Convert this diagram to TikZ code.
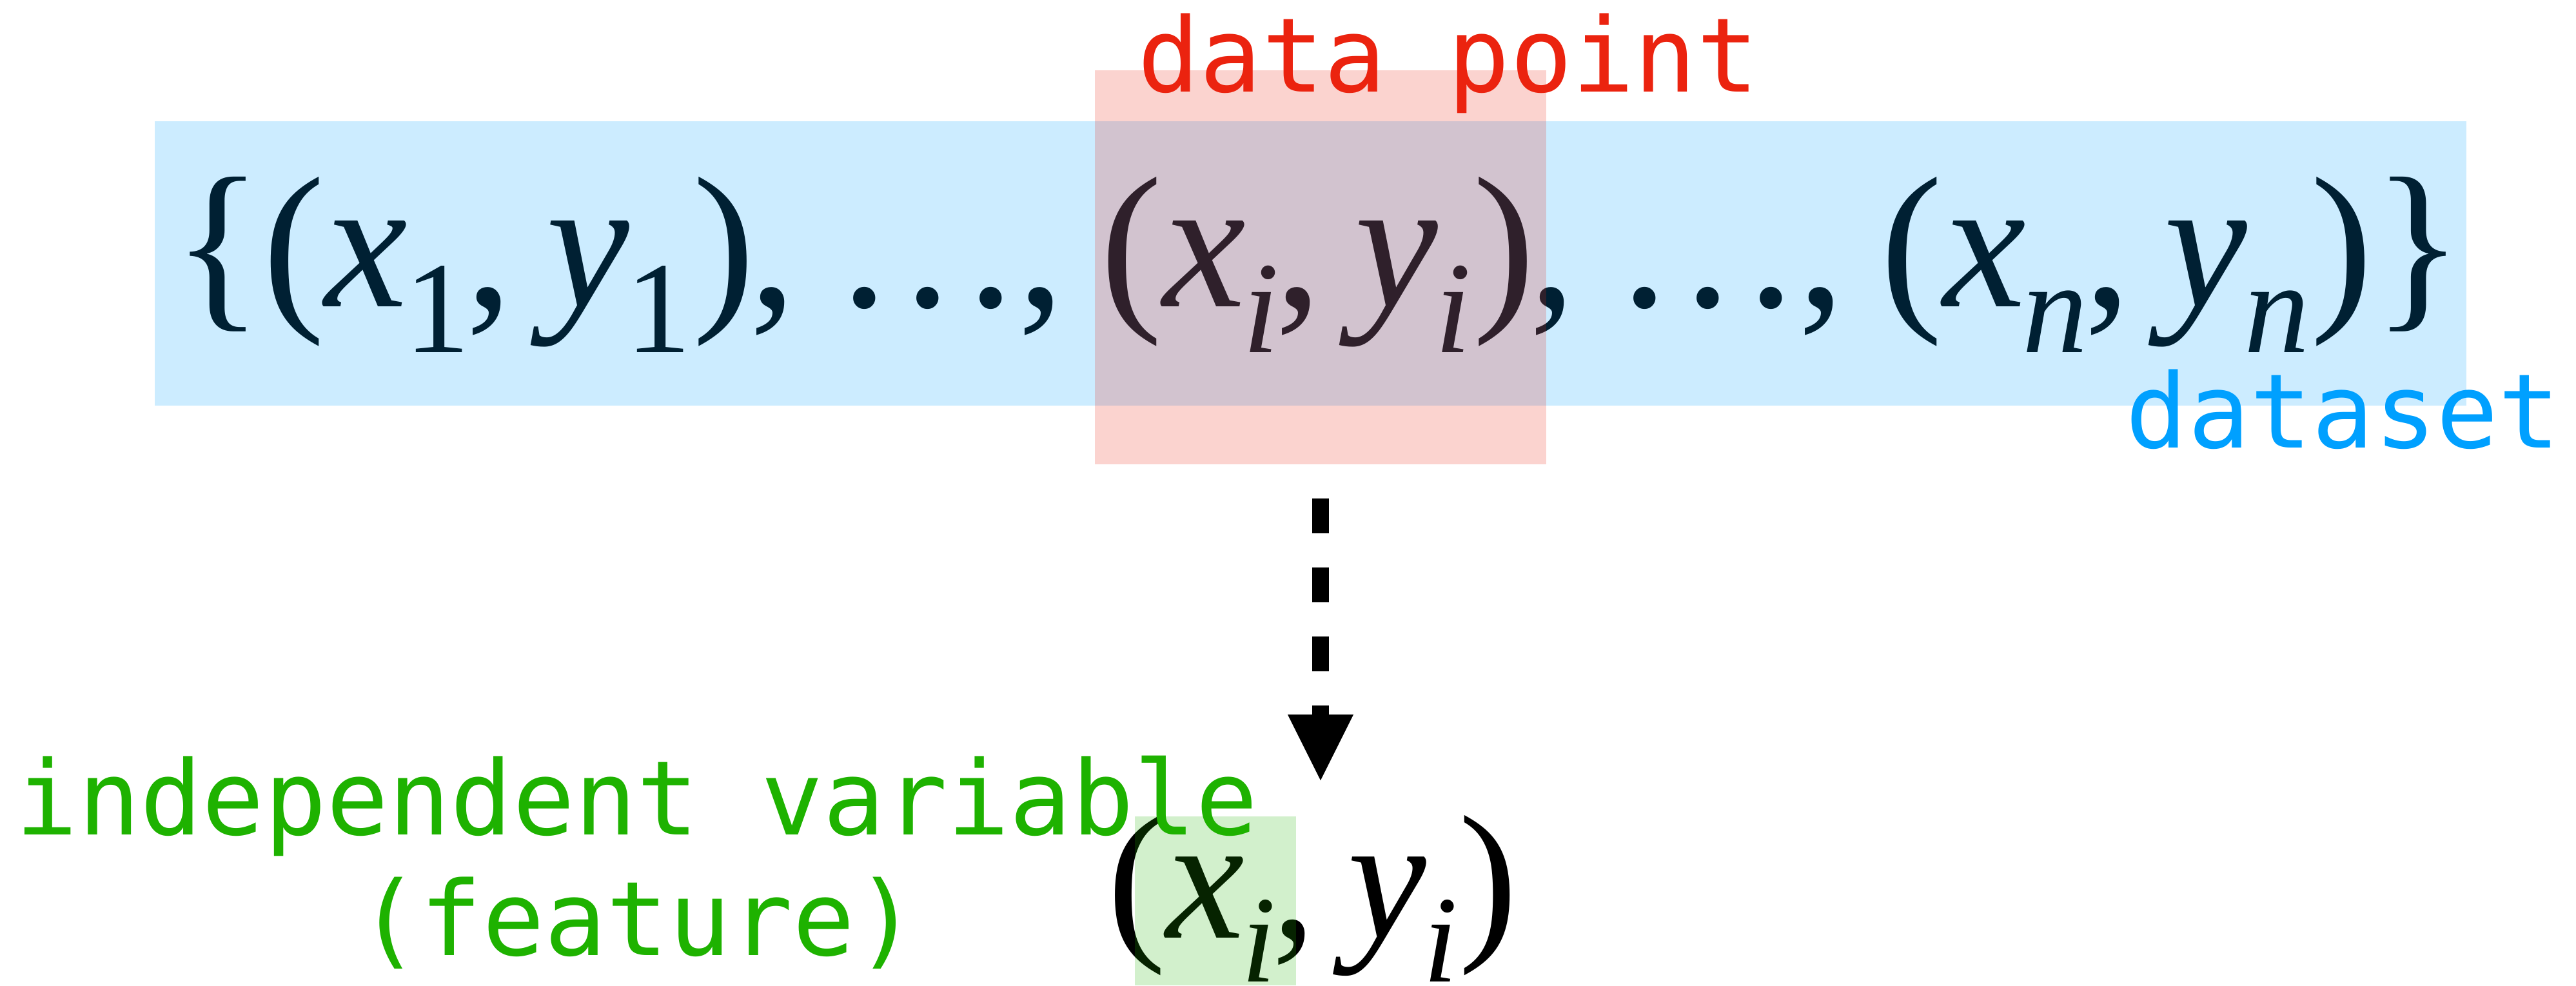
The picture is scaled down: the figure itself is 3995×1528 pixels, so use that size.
\documentclass[tikz,border=0pt]{standalone}
\usepackage{fontspec}
\usetikzlibrary{arrows.meta}
\newfontfamily\formfont{Liberation Serif}
\newfontfamily\labelfont{DejaVu Sans Mono}

\definecolor{dsblue}{RGB}{0,160,255}
\definecolor{dpred}{RGB}{235,35,15}
\definecolor{ftgreen}{RGB}{30,178,0}

% subscript: smaller upright/italic glyph, lowered below the baseline
\def\subsz{20.3pt}
\newcommand\lowidx[1]{\kern-0.017em\raisebox{-0.248em}{\fontsize{\subsz}{\subsz}\selectfont #1}}
% one (x_k, y_k) pair
\newcommand\xypair[1]{(\textit{x}\lowidx{#1}\kern-0.021em,\kern0.178em\textit{y}\lowidx{#1}\kern0.007em)}
% ", ..., " between pairs
\newcommand\elide{\kern-0.031em,\kern0.243em.\kern0.088em.\kern0.088em.\kern0.019em,\kern0.191em}

\tikzset{
  formula/.style={anchor=base west, inner sep=0pt, outer sep=0pt, text=black},
  shadebox/.style={anchor=north west, inner sep=0pt, outer sep=0pt, draw=none, fill opacity=0.2},
  lbl/.style={anchor=base, inner sep=0pt, font=\labelfont\fontsize{16pt}{18pt}\selectfont},
  dasharrow/.style={line width=2.67pt, dash pattern=on 5.4pt off 5.3pt,
    -{Triangle[length=10.2pt, width=10.2pt, line width=0pt]}}
}

\begin{document}
\begin{tikzpicture}[x=0.1pt, y=-0.1pt]
\useasboundingbox (0,0) rectangle (3995,1528);

% the data set
\node[formula, font=\formfont\fontsize{29pt}{30pt}\selectfont] (set) at (268,475)
  {\def\subsz{20.3pt}\{\xypair{1}\elide\xypair{\textit{i}}\elide\xypair{\textit{n}}\}};

% highlight boxes over the set
\node[shadebox, fill=dsblue, minimum width=358.5pt, minimum height=44.1pt] (setbox) at (240,188) {};
\node[shadebox, fill=dpred, minimum width=70pt, minimum height=61.1pt] (pointbox) at (1698,109) {};

% the single data point below
\node[formula, font=\formfont\fontsize{27.4pt}{28pt}\selectfont] (pair) at (1717,1454)
  {\def\subsz{19.2pt}\xypair{\textit{i}}};
\node[shadebox, fill=ftgreen, minimum width=25pt, minimum height=26.2pt] (featbox) at (1760,1266) {};

% dashed arrow from the point to its copy
\coordinate (tip) at (2049,1210);
\draw[dasharrow, shorten <=5.3pt] (pointbox.south) -- (pointbox.south |- tip);

% labels
\node[lbl, text=dpred] (dplabel) at (2246,142) {data point};
\node[lbl, text=dsblue] (dslabel) at (3634,694) {dataset};
\node[lbl, text=ftgreen] (ivlabel) at (988,1294) {independent variable};
\node[lbl, text=ftgreen] (ftlabel) at (989,1481) {(feature)};
\end{tikzpicture}
\end{document}
